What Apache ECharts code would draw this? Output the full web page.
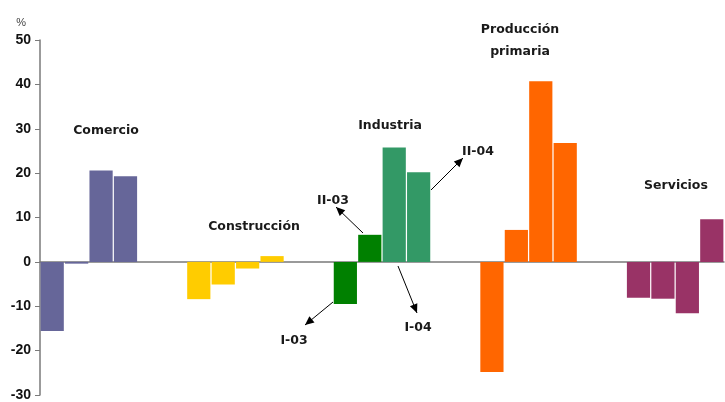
<!DOCTYPE html>
<html>
<head>
<meta charset="utf-8">
<script src="https://cdn.jsdelivr.net/npm/echarts@6/dist/echarts.min.js"></script>
<style>
  html, body { margin: 0; padding: 0; background: #fff; }
  #chart { width: 725px; height: 402px; }
</style>
</head>
<body>
<div id="chart"></div>
<script>
// Variación por sector, cuatro trimestres (I-03, II-03, I-04, II-04)
const sectors = ['Comercio', 'Construcción', 'Industria', 'Producción primaria', 'Servicios'];
const comercio = [-15.6, -0.4, 20.6, 19.3];
const construccion = [-8.4, -5.1, -1.5, 1.3];
const industria = [-9.5, 6.1, 25.8, 20.2];
const produccion = [-24.8, 7.2, 40.7, 26.8];
const servicios = [-8.1, -8.3, -11.6, 9.6];
const yTicks = [-30, -20, -10, 0, 10, 20, 30, 40, 50];

const sectorColors = [
  ['#666699', '#666699', '#666699', '#666699'],
  ['#FFCC00', '#FFCC00', '#FFCC00', '#FFCC00'],
  ['#008000', '#008000', '#339966', '#339966'],
  ['#FF6600', '#FF6600', '#FF6600', '#FF6600'],
  ['#993366', '#993366', '#993366', '#993366']
];
const sectorValues = [comercio, construccion, industria, produccion, servicios];

// Four bars per sector, two empty slots between sectors
const categories = [];
const barData = [];
sectorValues.forEach(function (vals, s) {
  vals.forEach(function (v, q) {
    categories.push(sectors[s] + ' ' + q);
    barData.push({ value: v, itemStyle: { color: sectorColors[s][q] } });
  });
  if (s < sectorValues.length - 1) {
    for (let k = 0; k < 2; k++) {
      categories.push('gap' + s + k);
      barData.push(null);
    }
  }
});

const chart = echarts.init(document.getElementById('chart'), null, { renderer: 'canvas' });
const axisFont = "'Liberation Sans', Arial, sans-serif";
const textFont = "'DejaVu Sans', Verdana, sans-serif";
const labelStyle = { fontFamily: textFont, fontWeight: 'bold', fontSize: 12.5, fill: '#1a1a1a' };

function arrow(x1, y1, x2, y2) {
  return {
    type: 'line',
    shape: { x1: x1, y1: y1, x2: x2, y2: y2 },
    style: { stroke: '#000', lineWidth: 1 },
    z: 10
  };
}
function head(x1, y1, x2, y2) {
  const a = Math.atan2(y2 - y1, x2 - x1);
  const L = 9, W = 4;
  const bx = x2 - L * Math.cos(a), by = y2 - L * Math.sin(a);
  const px = -Math.sin(a) * W, py = Math.cos(a) * W;
  return {
    type: 'polygon',
    shape: { points: [[x2, y2], [bx + px, by + py], [bx - px, by - py]] },
    style: { fill: '#000' },
    z: 10
  };
}
function text(t, x, y, align) {
  return {
    type: 'text', x: x, y: y + 1.5, z: 10,
    style: Object.assign({ text: t, align: align || 'center', verticalAlign: 'middle' }, labelStyle)
  };
}

chart.setOption({
  animation: false,
  backgroundColor: '#fff',
  grid: { left: 40, right: 1, top: 40, bottom: 4, containLabel: false },
  xAxis: {
    type: 'category',
    data: categories,
    boundaryGap: true,
    axisLine: { onZero: true, lineStyle: { color: '#7a7a7a', width: 1.5 } },
    axisTick: { show: false },
    axisLabel: { show: false },
    splitLine: { show: false }
  },
  yAxis: {
    type: 'value',
    min: yTicks[0],
    max: yTicks[yTicks.length - 1],
    interval: 10,
    name: '%',
    nameLocation: 'end',
    nameGap: 12,
    nameTextStyle: { fontFamily: axisFont, fontSize: 11, color: '#444', align: 'right', padding: [0, 14, 0, 0] },
    axisLine: { show: true, lineStyle: { color: '#7a7a7a', width: 1.5 } },
    axisTick: { show: true, inside: false, length: 5, lineStyle: { color: '#7a7a7a' } },
    axisLabel: { fontFamily: axisFont, fontWeight: 'bold', fontSize: 14, color: '#111', margin: 9 },
    splitLine: { show: false }
  },
  series: [{
    type: 'bar',
    data: barData,
    barCategoryGap: '5%',
    silent: true
  }],
  graphic: [
    text('Comercio', 106, 129),
    text('Construcción', 254, 225),
    text('Industria', 390, 124),
    text('Producción', 520, 28),
    text('primaria', 520, 50),
    text('Servicios', 676, 184),
    text('II-03', 333, 199),
    text('I-03', 294, 339),
    text('I-04', 418, 326),
    text('II-04', 478, 150),
    arrow(363, 233, 336, 207), head(363, 233, 336, 207),
    arrow(333, 302, 305, 325), head(333, 302, 305, 325),
    arrow(398, 266, 417, 313), head(398, 266, 417, 313),
    arrow(431, 190, 463, 158), head(431, 190, 463, 158)
  ]
});
</script>
</body>
</html>
